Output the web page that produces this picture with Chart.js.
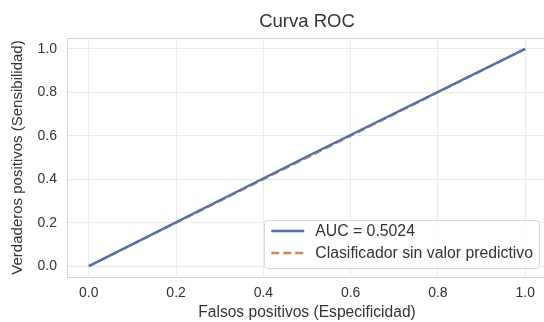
<!doctype html>
<html lang="es">
<head>
  <meta charset="utf-8" />
  <title>Curva ROC</title>
  <script src="https://cdn.jsdelivr.net/npm/chart.js@4.4.1/dist/chart.umd.min.js"></script>
  <style>
    html, body {
      margin: 0;
      padding: 0;
      background: #ffffff;
      overflow: hidden;
    }
    #roc {
      display: block;
    }
  </style>
</head>
<body>
  <canvas id="roc" width="548" height="322"></canvas>

  <script>
    // ROC curve points (false positive rate / true positive rate)
    const fpr = [0, 0.5, 1];
    const tpr = [0, 0.5048, 1];
    const aucValue = 0.5024;

    // Reference line of a random classifier
    const chanceX = [0, 1];
    const chanceY = [0, 1];

    const tickValues = [0, 0.2, 0.4, 0.6, 0.8, 1.0];

    const FONT = "'Liberation Sans', Arial, sans-serif";
    const textColor = "#333333";
    const frameColor = "#d2d2d2";

    const toPoints = (xs, ys) => xs.map((x, i) => ({ x: x, y: ys[i] }));

    // Axes frame on all four sides + title centred over the plot area
    const frameAndTitle = {
      id: "frameAndTitle",
      beforeDatasetsDraw(chart) {
        const { ctx, chartArea: a } = chart;
        ctx.save();
        ctx.strokeStyle = frameColor;
        ctx.lineWidth = 1;
        ctx.strokeRect(Math.round(a.left) + 0.5, Math.round(a.top) + 0.5,
          Math.round(a.right - a.left), Math.round(a.bottom - a.top));
        ctx.restore();
      },
      afterDraw(chart) {
        const { ctx, chartArea: a } = chart;
        ctx.save();
        ctx.font = "18.5px " + FONT;
        ctx.fillStyle = textColor;
        ctx.textAlign = "center";
        ctx.textBaseline = "middle";
        ctx.fillText("Curva ROC", (a.left + a.right) / 2, 22);
        ctx.restore();
      },
    };

    // Legend box in the lower right corner of the plot area
    const cornerLegend = {
      id: "cornerLegend",
      afterDraw(chart) {
        const { ctx, chartArea } = chart;
        const items = chart.data.datasets;
        ctx.save();
        ctx.font = "15.8px " + FONT;
        const maxText = Math.max(...items.map((d) => ctx.measureText(d.label).width));
        const w = 7 + 33 + 11 + maxText + 6;
        const h = 48;
        const x = chartArea.right - 8 - w;
        const y = chartArea.bottom - 9 - h;

        ctx.beginPath();
        ctx.roundRect(Math.round(x) + 0.5, Math.round(y) + 0.5, Math.round(w), h, 3);
        ctx.fillStyle = "rgba(255,255,255,0.85)";
        ctx.fill();
        ctx.strokeStyle = "#d9d9d9";
        ctx.lineWidth = 1;
        ctx.stroke();

        items.forEach((d, i) => {
          const rowY = y + 11 + i * 22;
          ctx.beginPath();
          ctx.setLineDash(d.borderDash || []);
          ctx.strokeStyle = d.borderColor;
          ctx.lineWidth = d.borderWidth;
          ctx.moveTo(x + 7, rowY);
          ctx.lineTo(x + 40, rowY);
          ctx.stroke();
          ctx.setLineDash([]);
          ctx.fillStyle = textColor;
          ctx.textBaseline = "middle";
          ctx.textAlign = "left";
          ctx.fillText(d.label, x + 51, rowY + 1);
        });
        ctx.restore();
      },
    };

    const fixedTicks = (scale) => {
      scale.ticks = tickValues.map((v) => ({ value: v }));
    };

    new Chart(document.getElementById("roc"), {
      type: "line",
      data: {
        datasets: [
          {
            label: "AUC = " + aucValue.toFixed(4),
            data: toPoints(fpr, tpr),
            borderColor: "#4C72B0",
            borderWidth: 2.4,
            pointRadius: 0,
            fill: false,
            tension: 0,
          },
          {
            label: "Clasificador sin valor predictivo",
            data: toPoints(chanceX, chanceY),
            borderColor: "#DD8452",
            borderWidth: 2.4,
            borderDash: [8, 4],
            pointRadius: 0,
            fill: false,
            tension: 0,
          },
        ],
      },
      plugins: [frameAndTitle, cornerLegend],
      options: {
        responsive: false,
        animation: false,
        layout: { padding: { left: 0, right: 1, top: 38, bottom: 0 } },
        plugins: {
          legend: { display: false },
          tooltip: { enabled: false },
          title: { display: false },
        },
        scales: {
          x: {
            type: "linear",
            min: -0.05,
            max: 1.05,
            afterBuildTicks: fixedTicks,
            afterFit: (scale) => { scale.height = 45; },
            grid: { color: "#ebebeb", lineWidth: 1, drawTicks: false },
            border: { display: false },
            ticks: {
              padding: 8,
              color: textColor,
              font: { family: FONT, size: 14 },
              callback: (v) => v.toFixed(1),
            },
            title: {
              display: true,
              text: "Falsos positivos (Especificidad)",
              color: textColor,
              font: { family: FONT, size: 15.6 },
              padding: { top: 0, bottom: 0 },
            },
          },
          y: {
            type: "linear",
            min: -0.05,
            max: 1.05,
            afterBuildTicks: fixedTicks,
            afterFit: (scale) => { scale.width = 67; },
            grid: { color: "#ebebeb", lineWidth: 1, drawTicks: false },
            border: { display: false },
            ticks: {
              padding: 10,
              color: textColor,
              font: { family: FONT, size: 14 },
              callback: (v) => v.toFixed(1),
            },
            title: {
              display: true,
              text: "Verdaderos positivos (Sensibilidad)",
              color: textColor,
              font: { family: FONT, size: 15 },
              padding: { top: 9, bottom: 0 },
            },
          },
        },
      },
    });
  </script>
</body>
</html>
